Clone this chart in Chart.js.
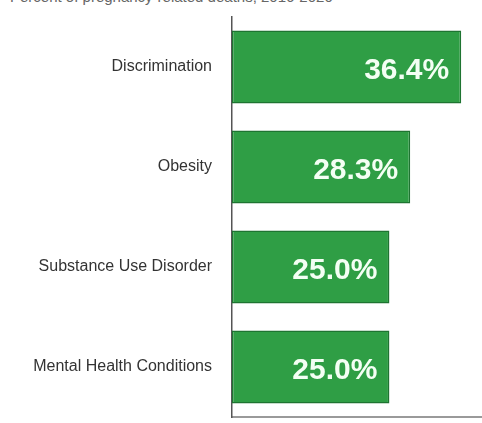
<!DOCTYPE html>
<html>
<head>
<meta charset="utf-8">
<script src="https://cdn.jsdelivr.net/npm/chart.js@4"></script>
<style>
  html, body { margin:0; padding:0; background:#fff; }
  #wrap { position:relative; width:482px; height:423px; overflow:hidden; }
  #sub { position:absolute; left:10px; top:-12px; font:15px "Liberation Sans", Arial, sans-serif; color:#666; white-space:nowrap; }
  canvas { position:absolute; left:0; top:0; }
</style>
</head>
<body>
<div id="wrap">
  <div id="sub">Percent of pregnancy-related deaths, 2016-2020</div>
  <canvas id="chart" width="482" height="423"></canvas>
</div>
<script>
// Pregnancy-related deaths — contributing factors (horizontal bars)
const categories = ['Discrimination', 'Obesity', 'Substance Use Disorder', 'Mental Health Conditions'];
const values     = [36.4, 28.3, 25.0, 25.0];

const GREEN = '#2f9e45';
const GREEN_EDGE = '#1e7431';

// white % labels inside the bar end
const valueLabels = {
  id: 'valueLabels',
  afterDatasetsDraw(chart){
    const ctx = chart.ctx;
    const meta = chart.getDatasetMeta(0);
    ctx.save();
    ctx.fillStyle = '#f4fff4';
    ctx.font = 'bold 30px "Liberation Sans", Arial, sans-serif';
    ctx.textAlign = 'right';
    ctx.textBaseline = 'middle';
    meta.data.forEach((bar, i) => {
      ctx.fillText(values[i].toFixed(1) + '%', bar.x - 12, bar.y + 4);
    });
    ctx.restore();
  }
};

new Chart(document.getElementById('chart'), {
  type: 'bar',
  data: {
    labels: categories,
    datasets: [{
      data: values,
      backgroundColor: GREEN,
      borderColor: GREEN_EDGE,
      borderWidth: 1.5,
      borderSkipped: false,
      categoryPercentage: 0.73,
      barPercentage: 1.0
    }]
  },
  options: {
    indexAxis: 'y',
    responsive: false,
    animation: false,
    layout: { padding: { top: 17, bottom: 6, right: 0, left: 0 } },
    plugins: { legend: { display: false }, tooltip: { enabled: false } },
    scales: {
      x: {
        min: 0, max: 39.7,
        grid: { display: false },
        ticks: { display: false },
        border: { display: true, color: '#9a9a9a', width: 2 },
        afterFit(s){ s.height = 0; s.paddingLeft = 0; s.paddingRight = 0; }
      },
      y: {
        grid: { display: false },
        border: { display: true, color: '#555', width: 1.5 },
        ticks: {
          color: '#333',
          padding: 12,
          font: { family: '"Liberation Sans", Arial, sans-serif', size: 16 }
        },
        afterFit(s){ s.width = 232; s.paddingTop = 0; s.paddingBottom = 0; }
      }
    }
  },
  plugins: [valueLabels]
});
</script>
</body>
</html>
